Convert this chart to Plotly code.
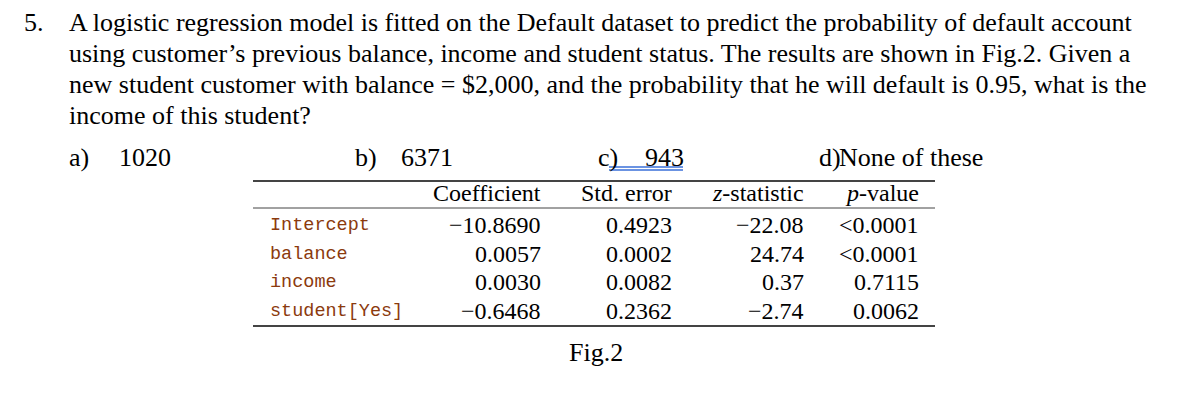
import plotly.graph_objects as go

question = [
    "A logistic regression model is fitted on the Default dataset to predict the probability of default account",
    "using customer’s previous balance, income and student status. The results are shown in Fig.2. Given a",
    "new student customer with balance = $2,000, and the probability that he will default is 0.95, what is the",
    "income of this student?",
]
option_labels = ["a)", "b)", "c)", "d)"]
option_values = ["1020", "6371", "943", "None of these"]
label_x = [67, 353, 596, 817]
value_x = [117, 399, 643, 837]

headers = ["Coefficient", "Std. error", "<i>z</i>-statistic", "<i>p</i>-value"]
terms = ["Intercept", "balance", "income", "student[Yes]"]
coefficient = ["−10.8690", "0.0057", "0.0030", "−0.6468"]
std_error = ["0.4923", "0.0002", "0.0082", "0.2362"]
z_stat = ["−22.08", "24.74", "0.37", "−2.74"]
p_value = ["<0.0001", "<0.0001", "0.7115", "0.0062"]

serif = "Liberation Serif, Times New Roman, serif"
mono = "Liberation Mono, DejaVu Sans Mono, monospace"

fig = go.Figure()
ann = []

def txt(x, y, s, size=26, anchor="left", family=serif, color="black"):
    ann.append(dict(x=x, y=y, xref="x", yref="y", text=s, showarrow=False,
                    xanchor=anchor, yanchor="middle",
                    font=dict(family=family, size=size, color=color)))

txt(22, 22, "5.")
line_y = [22, 53, 84, 115]
for s, y in zip(question, line_y):
    txt(67, y, s)

for lab, val, lx, vx in zip(option_labels, option_values, label_x, value_x):
    txt(lx, 157, lab, anchor="left")
    txt(vx, 157, val, anchor="left")

col_right = [543, 674, 806, 921]
for h, x in zip(headers, col_right):
    txt(x, 193, h, size=24, anchor="right")

row_y = [225, 254, 282, 311]
for i, y in enumerate(row_y):
    txt(268, y, terms[i], size=18.5, family=mono, color="#8b3a0e")
    for col, x in zip([coefficient, std_error, z_stat, p_value], col_right):
        txt(x, y, col[i], size=24, anchor="right")

txt(596, 352, "Fig.2", size=26, anchor="center")

shapes = [
    dict(type="line", x0=253, x1=935, y0=181, y1=181, line=dict(color="#444", width=2)),
    dict(type="line", x0=253, x1=935, y0=208, y1=208, line=dict(color="#444", width=1)),
    dict(type="line", x0=253, x1=935, y0=326, y1=326, line=dict(color="#444", width=2)),
    dict(type="line", x0=609, x1=683, y0=167, y1=167, line=dict(color="#3a6fd8", width=1.5)),
    dict(type="line", x0=609, x1=683, y0=170, y1=170, line=dict(color="#3a6fd8", width=1.5)),
]
for s in shapes:
    s.update(xref="x", yref="y")

# page body adds about 8px of margin, so shift the visible range to compensate
fig.update_layout(
    width=1204, height=402, margin=dict(l=0, r=0, t=0, b=0),
    paper_bgcolor="white", plot_bgcolor="white",
    xaxis=dict(range=[8, 1212], visible=False, fixedrange=True),
    yaxis=dict(range=[410, 8], visible=False, fixedrange=True),
    annotations=ann, shapes=shapes, showlegend=False,
)
fig.write_html("out.html")
